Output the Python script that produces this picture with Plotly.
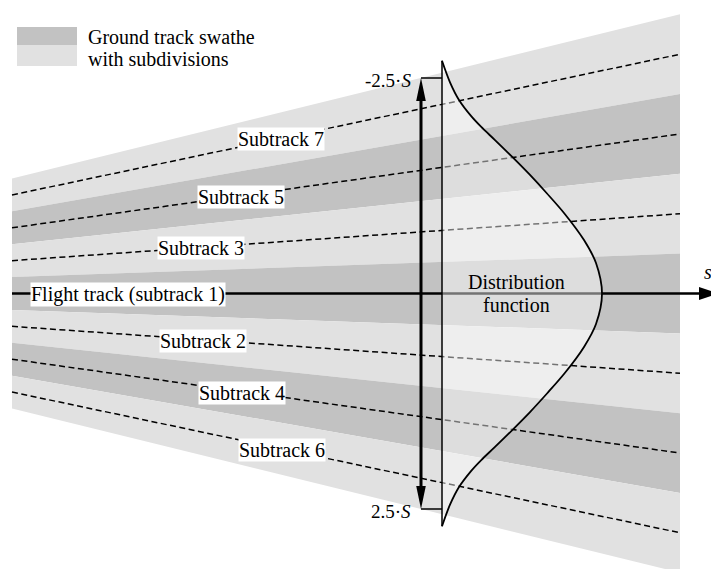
import plotly.graph_objects as go

# ---------------- canvas / coordinate helpers ----------------
W, H = 719, 569
PAGE_PAD = 8           # default body margin of the page
CY_PX = 293.5          # pixel row of the flight track (s = 0)
S_PX = 86.2            # pixels per unit S


def s_of(py):
    return (py - CY_PX) / S_PX


# ---------------- data ----------------
subtrack_labels = ["Subtrack 7", "Subtrack 5", "Subtrack 3",
                   "Flight track (subtrack 1)",
                   "Subtrack 2", "Subtrack 4", "Subtrack 6"]
subtrack_offsets = [-3, -2, -1, 0, 1, 2, 3]      # in band widths
n_bands = 7
edge_s = 2.5                                      # swathe half width at the distribution
tick_values = [-2.5, 2.5]
tick_labels = ["-2.5·<i>S</i>", "2.5·<i>S</i>"]

# distribution function (s in units of S, amplitude in px)
dist_s = [-2.70, -2.45, -2.245, -2.06, -1.935, -1.78, -1.587, -1.375, -1.16, -0.92, -0.62, -0.354, 0.0,
          0.354, 0.62, 0.92, 1.16, 1.375, 1.587, 1.78, 1.935, 2.06, 2.245, 2.45, 2.70]
dist_amp = [0, 8, 17, 29, 39, 53, 70, 88, 105, 123, 142, 154, 160,
            154, 142, 123, 105, 88, 70, 53, 39, 29, 17, 8, 0]

# ---------------- geometry (layout) ----------------
X_LEFT, X_RIGHT = 12, 680
X_ARROW, X_BASE = 421, 442
X_VANISH = -455.8
X_AXIS_END = 718
label_x = [281, 241, 201, 128, 203, 242, 282]

FONT = "Liberation Serif, Times New Roman, serif"
DARK = "#c2c2c2"
LIGHT = "#e1e1e1"


def half_width(x):
    return edge_s * (x - X_VANISH) / (X_ARROW - X_VANISH)


def line_s(x, k):
    return half_width(x) * 2 * k / n_bands


fig = go.Figure()
shapes = []
annotations = []

# swathe bands
half = n_bands // 2
for k in range(-half, half + 1):
    y1l = half_width(X_LEFT) * (2 * k - 1) / n_bands
    y2l = half_width(X_LEFT) * (2 * k + 1) / n_bands
    y1r = half_width(X_RIGHT) * (2 * k - 1) / n_bands
    y2r = half_width(X_RIGHT) * (2 * k + 1) / n_bands
    col = DARK if k % 2 == 0 else LIGHT
    shapes.append(dict(type="path", layer="below", xref="x", yref="y",
                       path=f"M {X_LEFT},{y1l} L {X_RIGHT},{y1r} L {X_RIGHT},{y2r} L {X_LEFT},{y2l} Z",
                       fillcolor=col, line=dict(width=0)))

# dashed subtracks
for k in subtrack_offsets:
    if k == 0:
        continue
    fig.add_trace(go.Scatter(x=[X_LEFT, X_RIGHT], y=[line_s(X_LEFT, k), line_s(X_RIGHT, k)],
                             mode="lines", line=dict(color="black", width=1.5, dash="6px,3.5px"),
                             hoverinfo="skip", showlegend=False))

# flight track (s axis)
AX_HEAD = 19
fig.add_trace(go.Scatter(x=[X_LEFT, X_AXIS_END - AX_HEAD + 2], y=[0, 0], mode="lines",
                         line=dict(color="black", width=2.5), hoverinfo="skip", showlegend=False))

# distribution function with translucent fill
fig.add_trace(go.Scatter(x=[X_BASE, X_BASE], y=[dist_s[0], dist_s[-1]], mode="lines",
                         line=dict(color="rgba(0,0,0,0)", width=0), hoverinfo="skip", showlegend=False))
fig.add_trace(go.Scatter(x=[X_BASE + a for a in dist_amp], y=dist_s, mode="lines",
                         fill="tonextx", fillcolor="rgba(255,255,255,0.45)",
                         line=dict(color="black", width=1.8, shape="spline", smoothing=0.9),
                         hoverinfo="skip", showlegend=False))

# baseline of distribution
shapes.append(dict(type="line", layer="above", xref="x", yref="y",
                   x0=X_BASE, x1=X_BASE, y0=dist_s[0], y1=dist_s[-1],
                   line=dict(color="black", width=1.5)))

# axis arrowhead
ah = 6.5 / S_PX
shapes.append(dict(type="path", layer="above", xref="x", yref="y",
                   path=f"M {X_AXIS_END},0 L {X_AXIS_END - AX_HEAD},{-ah} L {X_AXIS_END - AX_HEAD},{ah} Z",
                   fillcolor="black", line=dict(width=0)))

# vertical double arrow
HEAD_L = 23 / S_PX
HEAD_W = 4.8
shapes.append(dict(type="line", layer="above", xref="x", yref="y",
                   x0=X_ARROW, x1=X_ARROW, y0=tick_values[0] + HEAD_L * 0.8, y1=tick_values[1] - HEAD_L * 0.8,
                   line=dict(color="black", width=3)))
for tv in tick_values:
    sgn = 1 if tv < 0 else -1
    base = tv + sgn * HEAD_L
    shapes.append(dict(type="path", layer="above", xref="x", yref="y",
                       path=f"M {X_ARROW},{tv} L {X_ARROW - HEAD_W},{base} L {X_ARROW + HEAD_W},{base} Z",
                       fillcolor="black", line=dict(width=0)))
    shapes.append(dict(type="line", layer="above", xref="x", yref="y",
                       x0=X_ARROW, x1=X_BASE, y0=tv, y1=tv,
                       line=dict(color="black", width=1.5)))

# tick labels
for tv, tl in zip(tick_values, tick_labels):
    annotations.append(dict(x=X_ARROW - 8, y=tv, xref="x", yref="y", text=tl, showarrow=False,
                            xanchor="right", yanchor="middle", yshift=-2,
                            font=dict(family=FONT, size=19, color="black")))

# subtrack labels
for lab, k, lx in zip(subtrack_labels, subtrack_offsets, label_x):
    annotations.append(dict(x=lx, y=line_s(lx, k), xref="x", yref="y", text=lab, showarrow=False,
                            xanchor="center", yanchor="middle", bgcolor="white", borderpad=0,
                            yshift=-1,
                            font=dict(family=FONT, size=20, color="black")))

# distribution function text
annotations.append(dict(x=516, y=s_of(282), xref="x", yref="y", text="Distribution", showarrow=False,
                        font=dict(family=FONT, size=20, color="black")))
annotations.append(dict(x=516, y=s_of(305), xref="x", yref="y", text="function", showarrow=False,
                        font=dict(family=FONT, size=20, color="black")))
# axis label
annotations.append(dict(x=708, y=s_of(272), xref="x", yref="y", text="<i>s</i>", showarrow=False,
                        font=dict(family=FONT, size=20, color="black")))

# legend
shapes.append(dict(type="rect", layer="above", xref="x", yref="y", x0=17, x1=77,
                   y0=s_of(27), y1=s_of(45), fillcolor=DARK, line=dict(width=0)))
shapes.append(dict(type="rect", layer="above", xref="x", yref="y", x0=17, x1=77,
                   y0=s_of(45), y1=s_of(66), fillcolor=LIGHT, line=dict(width=0)))
annotations.append(dict(x=86, y=s_of(37), xref="x", yref="y", text="Ground track swathe", showarrow=False,
                        xanchor="left", font=dict(family=FONT, size=20, color="black")))
annotations.append(dict(x=86, y=s_of(59), xref="x", yref="y", text="with subdivisions", showarrow=False,
                        xanchor="left", font=dict(family=FONT, size=20, color="black")))

fig.update_layout(
    width=W - PAGE_PAD, height=H - PAGE_PAD, margin=dict(l=0, r=0, t=0, b=0),
    paper_bgcolor="white", plot_bgcolor="white",
    xaxis=dict(range=[PAGE_PAD, W], visible=False, fixedrange=True),
    yaxis=dict(range=[s_of(H), s_of(PAGE_PAD)], visible=False, fixedrange=True),
    shapes=shapes, annotations=annotations, showlegend=False,
)

fig.write_html("out.html")
